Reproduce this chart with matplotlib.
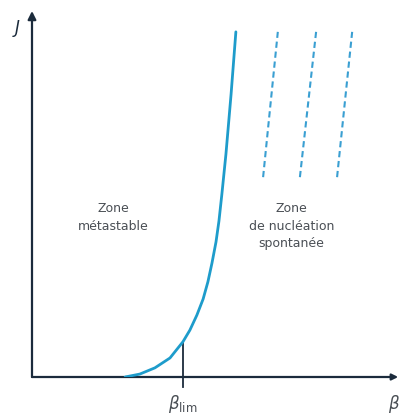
import matplotlib
matplotlib.use("Agg")
import matplotlib.pyplot as plt

# limit curve J(beta)
beta_curve = [2.53, 2.93, 3.34, 3.75, 4.10, 4.29, 4.48, 4.65, 4.78, 4.89,
              5.00, 5.08, 5.16, 5.27, 5.41, 5.54]
j_curve = [0.0, 0.08, 0.25, 0.52, 0.96, 1.28, 1.69, 2.13, 2.60, 3.11,
           3.69, 4.26, 5.00, 6.09, 7.73, 9.43]

# dashed lines in the spontaneous nucleation zone (bottom, top)
dash_beta = [(6.28, 6.68), (7.28, 7.72), (8.29, 8.70)]
dash_j = (5.46, 9.43)

beta_lim = 4.10
j_lim = 0.96

zone_labels = ["Zone\nmétastable", "Zone\nde nucléation\nspontanée"]
zone_pos = [(2.2, 4.38), (7.05, 4.14)]

curve_color = "#1e9ccb"
dash_color = "#3a9fd2"
axis_color = "#1b2b3c"
text_color = "#4a4f55"

fig = plt.figure(figsize=(4.03, 4.14), dpi=100)
ax = fig.add_axes([32 / 403, 36 / 414, 368 / 403, 366 / 414])
ax.set_xlim(0, 10)
ax.set_ylim(0, 10)
ax.axis("off")

# axes with arrows
ax.annotate("", xy=(0, 10), xytext=(0, 0),
            arrowprops=dict(arrowstyle="-|>", color=axis_color, lw=1.6,
                            mutation_scale=12, shrinkA=0, shrinkB=0),
            annotation_clip=False)
ax.annotate("", xy=(9.95, 0), xytext=(0, 0),
            arrowprops=dict(arrowstyle="-|>", color=axis_color, lw=1.6,
                            mutation_scale=9, shrinkA=0, shrinkB=0),
            annotation_clip=False)

ax.plot(beta_curve, j_curve, color=curve_color, lw=2.0, solid_capstyle="round",
        solid_joinstyle="round", zorder=3)

for b0, b1 in dash_beta:
    ax.plot([b0, b1], dash_j, color=dash_color, lw=1.5, dashes=(3, 1.8))

# beta_lim tick
ax.plot([beta_lim, beta_lim], [-0.27, j_lim], color=axis_color, lw=1.3, clip_on=False)

ax.text(beta_lim, -0.42, r"$\beta_{\mathrm{lim}}$", ha="center", va="top",
        fontsize=12, color=text_color)
ax.text(9.85, -0.42, r"$\beta$", ha="center", va="top", fontsize=12, color=text_color)
ax.text(-0.42, 9.55, r"$J$", ha="center", va="center", fontsize=12, color=axis_color)

for label, (x, y) in zip(zone_labels, zone_pos):
    ax.text(x, y, label, ha="center", va="center", fontsize=9, color=text_color,
            linespacing=1.45)

fig.savefig("out.png", dpi=100, facecolor="white")
